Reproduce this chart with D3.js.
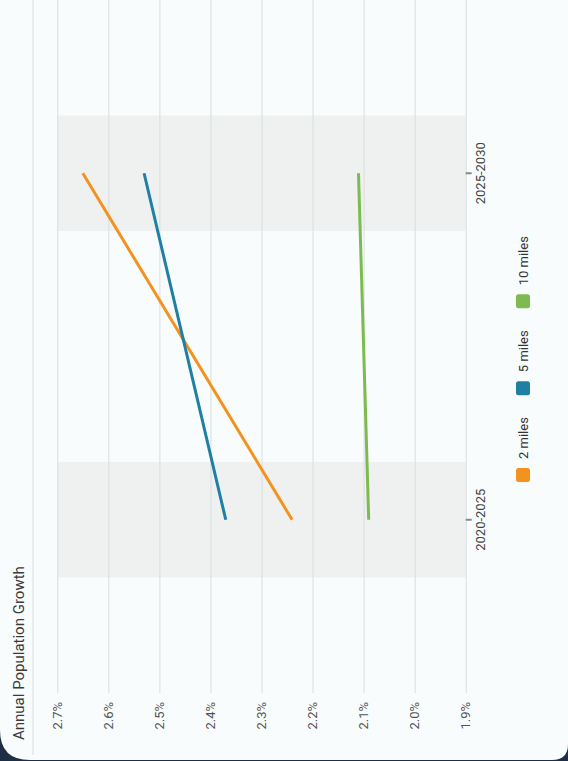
<!DOCTYPE html>
<html>
<head>
<meta charset="utf-8">
<script src="https://cdn.jsdelivr.net/npm/d3@7/dist/d3.min.js"></script>
<style>
  html, body { margin: 0; padding: 0; background: #1e2f45; }
  svg { display: block; font-family: Roboto, "Noto Sans", sans-serif; }
</style>
</head>
<body>
<script>
// Annual population growth by radius, two five-year periods
const periods = ["2020-2025", "2025-2030"];
const seriesNames = ["2 miles", "5 miles", "10 miles"];
const seriesColors = ["#f3921f", "#1f80a3", "#7dbb50"];
const growth2mi = [2.24, 2.65];
const growth5mi = [2.37, 2.53];
const growth10mi = [2.09, 2.11];
const yTicks = [1.9, 2.0, 2.1, 2.2, 2.3, 2.4, 2.5, 2.6, 2.7];

const series = seriesNames.map((name, i) => ({
  name,
  color: seriesColors[i],
  values: [growth2mi, growth5mi, growth10mi][i]
}));

const PW = 568, PH = 761;          // page size
const W = 761, H = 568;            // chart frame (drawn sideways)

const svg = d3.select("body").append("svg")
  .attr("width", PW).attr("height", PH);

// dark page background and the card with rounded lower corners
svg.append("rect").attr("width", PW).attr("height", PH).attr("fill", "#1e2f45");
const rBL = 30, rBR = 16, cardBottom = 760;
svg.append("path")
  .attr("d", `M0,-10 L${PW},-10 L${PW},${cardBottom - rBR}
    Q${PW},${cardBottom} ${PW - rBR},${cardBottom}
    L${rBL},${cardBottom} Q0,${cardBottom} 0,${cardBottom - rBL} Z`)
  .attr("fill", "#f8fcfc");

// chart frame rotated a quarter turn counter-clockwise
const g = svg.append("g").attr("transform", `translate(0,${PH}) rotate(-90)`);

const plotLeft = 68, plotRight = W, plotTop = 57.3, plotBottom = 465.7;

const x = d3.scaleBand().domain(periods).range([plotLeft, plotRight]);
const y = d3.scaleLinear().domain([1.9, 2.7]).range([plotBottom, plotTop]);
const cx = d => x(d) + x.bandwidth() / 2;

// title and separator
g.append("text")
  .attr("x", 21).attr("y", 23.5)
  .attr("font-size", 15).attr("fill", "#3a3a3a")
  .text("Annual Population Growth");
g.append("line")
  .attr("x1", 6).attr("x2", W).attr("y1", 33).attr("y2", 33)
  .attr("stroke", "#d9dcdc").attr("stroke-width", 1);

// shaded period bands
const shadeW = x.bandwidth() / 3;
g.append("g").selectAll("rect").data(periods).join("rect")
  .attr("x", d => cx(d) - shadeW / 2)
  .attr("width", shadeW)
  .attr("y", plotTop)
  .attr("height", plotBottom - plotTop)
  .attr("fill", "#eff1f1");

// value axis with gridlines
const yAxis = g.append("g")
  .attr("transform", `translate(${plotLeft},0)`)
  .call(d3.axisLeft(y).tickValues(yTicks)
    .tickSize(-(plotRight - plotLeft))
    .tickPadding(9)
    .tickFormat(d => d3.format(".1f")(d) + "%"));
yAxis.select(".domain").remove();
yAxis.selectAll(".tick line").attr("stroke", "#dadddd").attr("stroke-width", 1);
yAxis.selectAll(".tick text").attr("fill", "#555").attr("font-size", 13)
  .attr("font-family", "Roboto, sans-serif");

// period axis
const xAxis = g.append("g")
  .attr("transform", `translate(0,${plotBottom})`)
  .call(d3.axisBottom(x).tickSize(6).tickPadding(4));
xAxis.select(".domain").remove();
xAxis.selectAll(".tick line").attr("stroke", "#8a8a8a").attr("stroke-width", 2);
xAxis.selectAll(".tick text").attr("fill", "#444").attr("font-size", 13)
  .attr("font-family", "Roboto, sans-serif");

// series lines
const line = d3.line().x((d, i) => cx(periods[i])).y(d => y(d));
g.append("g").selectAll("path").data(series).join("path")
  .attr("d", d => line(d.values))
  .attr("fill", "none")
  .attr("stroke", d => d.color)
  .attr("stroke-width", 3);

// legend
const legend = g.append("g").attr("transform", "translate(279,523)");
let offset = 0;
series.forEach(s => {
  const item = legend.append("g").attr("transform", `translate(${offset},0)`);
  item.append("rect")
    .attr("x", 0).attr("y", -7).attr("width", 14).attr("height", 14)
    .attr("rx", 2.5).attr("fill", s.color);
  const t = item.append("text")
    .attr("x", 23).attr("y", 0).attr("dy", "0.35em")
    .attr("font-size", 13).attr("fill", "#333")
    .text(s.name);
  offset += 23 + t.node().getComputedTextLength() + 22;
});
</script>
</body>
</html>
